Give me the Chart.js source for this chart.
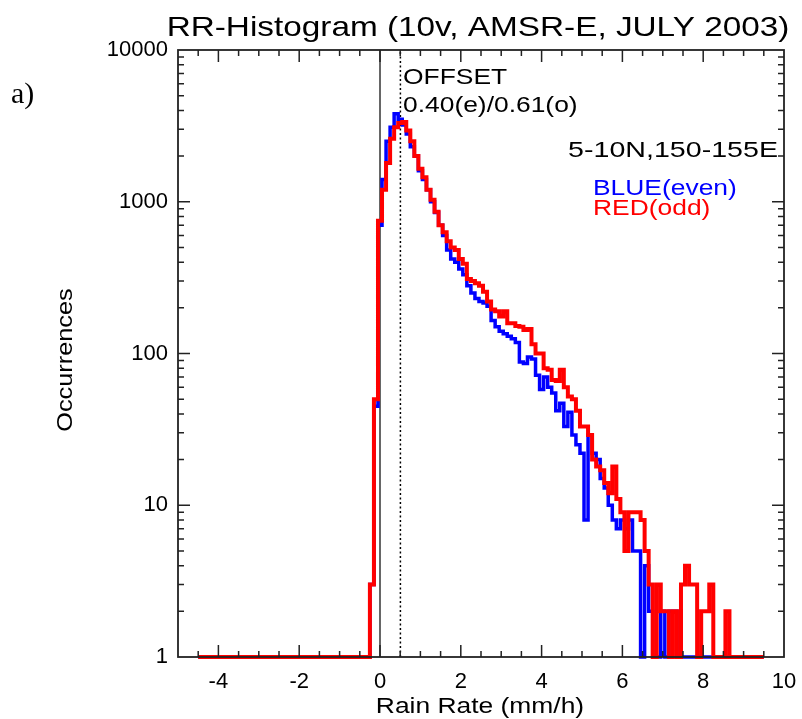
<!DOCTYPE html>
<html>
<head>
	<title>RR-Histogram</title>
	<style>
		body { margin: 0; background: #fff; }
	</style>
</head>
<body>
	<canvas id="hist" width="802" height="719"></canvas>

	<script src="https://cdn.jsdelivr.net/npm/chart.js@4/dist/chart.umd.min.js"></script>
	<script type="text/javascript">

		// histogram bins: centres from -4.5 to 9.5 mm/h, 0.1 wide
		var binStart = -4.5;
		var binWidth = 0.1;

		// even orbits (blue)
		var evenCounts = [
			0,0,0,0,0,0,0,0,0,0, 0,0,0,0,0,0,0,0,0,0,
			0,0,0,0,0,0,0,0,0,0, 0,0,0,0,0,0,0,0,0,0,
			0,0,0,3,45,
			700,1400,2500,3100,3800,3500,3200,2800,2300,2000,
			1600,1400,1200,1000,850,700,600,480,420,400,
			360,330,280,250,230,220,215,205,165,150,
			140,135,130,125,118,88,86,95,92,72,
			58,70,60,55,42,47,33,41,29,25,
			22,8,29,22,20,15,13,10,8,7,
			8,7,8,5,5,1,4,2,1,1,
			2,1,2,2,1,0,0,0,0,0,
			0,0,0,0,0,0,0,0,0,0,
			0,0,0,0,0,0
		];

		// odd orbits (red)
		var oddCounts = [
			0,0,0,0,0,0,0,0,0,0, 0,0,0,0,0,0,0,0,0,0,
			0,0,0,0,0,0,0,0,0,0, 0,0,0,0,0,0,0,0,0,0,
			0,0,0,3,50,
			750,1200,1800,2600,3100,3300,3350,2950,2500,2000,
			1650,1450,1200,1030,860,700,630,550,500,480,
			420,390,310,300,290,280,255,220,195,190,
			175,190,158,158,152,150,143,145,115,100,
			100,80,78,67,66,78,60,52,50,42,
			33,33,29,20,18,17,14,12,18,11,
			9,5,9,9,9,8,5,3,1,3,
			2,2,1,2,1,3,4,3,3,0,
			2,2,3,0,0,0,2,0,0,0,
			0,0,0,0,0,0
		];

		var xTickValues = [-4, -2, 0, 2, 4, 6, 8, 10];
		var yTickValues = [1, 10, 100, 1000, 10000];

		var offsetEven = 0.40;
		var offsetOdd = 0.61;

		var sans = '"Liberation Sans", Arial, Helvetica, sans-serif';
		var axisColor = '#222';

		function toPoints(counts) {
			var pts = [];
			for (var i = 0; i < counts.length; i++) {
				// empty bins sit on the floor of the log axis
				pts.push({ x: binStart + i * binWidth, y: Math.max(counts[i], yTickValues[0]) });
			}
			return pts;
		}

		// text drawn a little wider than the font, like the plot's vector font
		function wideText(ctx, str, x, y, size, color, align, sx, angle, family) {
			ctx.save();
			ctx.translate(x, y);
			if (angle) ctx.rotate(angle);
			ctx.scale(sx, 1);
			ctx.font = size + 'px ' + (family || sans);
			ctx.fillStyle = color;
			ctx.textAlign = align;
			ctx.textBaseline = 'alphabetic';
			ctx.fillText(str, 0, 0);
			ctx.restore();
		}

		var framePlugin = {
			id: 'frame',
			beforeDatasetsDraw: function (chart) {
				var ctx = chart.ctx, a = chart.chartArea;
				var xs = chart.scales.x;
				ctx.save();
				// zero line
				var x0 = xs.getPixelForValue(0);
				ctx.strokeStyle = '#333';
				ctx.lineWidth = 1.5;
				ctx.beginPath();
				ctx.moveTo(x0, a.bottom);
				ctx.lineTo(x0, a.top);
				ctx.stroke();
				// mean offset, dotted
				var xo = xs.getPixelForValue((offsetEven + offsetOdd) / 2);
				ctx.strokeStyle = '#000';
				ctx.setLineDash([2, 2.5]);
				ctx.lineWidth = 1.5;
				ctx.beginPath();
				ctx.moveTo(xo, a.bottom);
				ctx.lineTo(xo, a.top);
				ctx.stroke();
				ctx.restore();
			},
			afterDraw: function (chart) {
				var ctx = chart.ctx, a = chart.chartArea;
				var xs = chart.scales.x, ys = chart.scales.y;
				ctx.save();
				ctx.strokeStyle = axisColor;
				ctx.lineWidth = 1.8;
				ctx.strokeRect(a.left, a.top, a.right - a.left, a.bottom - a.top);

				// inward ticks on all four sides
				ctx.lineWidth = 1.5;
				ctx.beginPath();
				for (var k = -9; k < 20; k++) {
					var v = k / 2;
					var len = (v % 2 === 0) ? 12 : 6;
					var px = xs.getPixelForValue(v);
					ctx.moveTo(px, a.bottom); ctx.lineTo(px, a.bottom - len);
					ctx.moveTo(px, a.top); ctx.lineTo(px, a.top + len);
				}
				for (var d = 0; d < 4; d++) {
					for (var m = 1; m <= 9; m++) {
						if (d === 0 && m === 1) continue;
						var val = m * Math.pow(10, d);
						var py = ys.getPixelForValue(val);
						var l = (m === 1) ? 12 : 6;
						ctx.moveTo(a.left, py); ctx.lineTo(a.left + l, py);
						ctx.moveTo(a.right, py); ctx.lineTo(a.right - l, py);
					}
				}
				ctx.stroke();
				ctx.restore();

				// titles and notes
				wideText(ctx, 'RR-Histogram (10v, AMSR-E, JULY 2003)', 478, 36, 28, '#000', 'center', 1.19);
				wideText(ctx, 'a)', 11, 103, 30, '#000', 'left', 1, 0, '"Liberation Serif", "Times New Roman", serif');
				wideText(ctx, 'OFFSET', 403, 84, 22, '#000', 'left', 1.2);
				wideText(ctx, offsetEven.toFixed(2) + '(e)/' + offsetOdd.toFixed(2) + '(o)', 403, 112, 22, '#000', 'left', 1.2);
				wideText(ctx, '5-10N,150-155E', 778, 157, 22, '#000', 'right', 1.3);
				wideText(ctx, 'BLUE(even)', 593, 195, 22, '#0000ff', 'left', 1.2);
				wideText(ctx, 'RED(odd)', 593, 215, 22, '#ff0000', 'left', 1.2);
				wideText(ctx, 'Rain Rate (mm/h)', 480, 713, 22, '#000', 'center', 1.2);
				wideText(ctx, 'Occurrences', 72, 360, 22, '#000', 'center', 1.15, -Math.PI / 2);
			}
		};

		window.onload = function () {
			new Chart('hist', {
				type: 'line',
				data: {
					datasets: [{
						label: 'BLUE(even)',
						data: toPoints(evenCounts),
						borderColor: '#0000ff',
						borderWidth: 3.5,
						stepped: 'middle',
						pointRadius: 0,
						fill: false,
						order: 1,
						clip: { left: 2, right: 2, top: 2, bottom: 4 }
					}, {
						label: 'RED(odd)',
						data: toPoints(oddCounts),
						borderColor: '#ff0000',
						borderWidth: 4,
						stepped: 'middle',
						pointRadius: 0,
						fill: false,
						order: 0,
						clip: { left: 2, right: 2, top: 2, bottom: 4 }
					}]
				},
				options: {
					responsive: false,
					animation: false,
					layout: { padding: { left: 0, right: 18, top: 50, bottom: 0 } },
					plugins: {
						legend: { display: false },
						tooltip: { enabled: false },
						title: { display: false }
					},
					scales: {
						x: {
							type: 'linear',
							min: -5,
							max: 10,
							grid: { display: false, drawTicks: false },
							border: { display: false },
							afterBuildTicks: function (s) {
								s.ticks = xTickValues.map(function (v) { return { value: v }; });
							},
							afterFit: function (s) {
								s.height = 62;
								s.paddingLeft = 0;
								s.paddingRight = 0;
							},
							ticks: {
								font: { family: sans, size: 22 },
								color: '#000',
								padding: 12,
								maxRotation: 0,
								autoSkip: false,
								callback: function (v) { return String(v); }
							}
						},
						y: {
							type: 'logarithmic',
							min: 1,
							max: 10000,
							grid: { display: false, drawTicks: false },
							border: { display: false },
							afterBuildTicks: function (s) {
								s.ticks = yTickValues.map(function (v) { return { value: v }; });
							},
							afterFit: function (s) {
								s.width = 178;
								s.paddingTop = 0;
								s.paddingBottom = 0;
							},
							ticks: {
								font: { family: sans, size: 22 },
								color: '#000',
								padding: 10,
								autoSkip: false,
								callback: function (v) { return String(v); }
							}
						}
					}
				},
				plugins: [framePlugin]
			});
		};

	</script>
</body>
</html>
